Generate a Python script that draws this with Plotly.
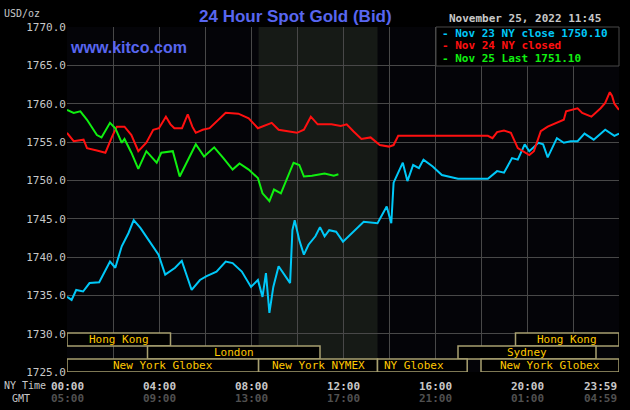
import plotly.graph_objects as go

# hours since 00:00 NY time, bid price
cyan_h = [0, 0.2, 0.4, 0.7, 0.98, 1.4, 1.87, 2.1, 2.38, 2.67, 2.9, 3.19, 3.55, 3.98, 4.27, 4.7, 4.99,
          5.42, 5.78, 6.07, 6.5, 6.9, 7.2, 7.6, 8.0, 8.3, 8.5, 8.65, 8.8, 8.97, 9.2, 9.7, 9.8, 9.9,
          10.1, 10.3, 10.5, 10.8, 11.0, 11.2, 11.4, 11.7, 12.0, 12.4, 12.9, 13.5, 13.9, 14.1, 14.2,
          14.6, 14.8, 15.05, 15.3, 15.5, 15.9, 16.3, 17.0, 18.3, 18.7, 19.0, 19.35, 19.6, 19.9, 20.1,
          20.5, 20.7, 20.9, 21.3, 21.6, 21.9, 22.2, 22.5, 22.9, 23.4, 23.8, 24.0]
cyan_v = [1734.8, 1734.4, 1735.7, 1735.5, 1736.6, 1736.7, 1739.4, 1738.6, 1741.4, 1743.1, 1744.8,
          1743.8, 1742.2, 1740.3, 1737.7, 1738.6, 1739.5, 1735.7, 1737.0, 1737.5, 1738.1, 1739.4,
          1739.2, 1738.1, 1736.1, 1737.0, 1734.8, 1737.9, 1732.7, 1736.1, 1738.8, 1736.6, 1743.5,
          1744.8, 1742.2, 1740.3, 1741.6, 1742.7, 1743.9, 1742.7, 1743.5, 1743.3, 1742.0, 1743.1,
          1744.6, 1744.4, 1746.6, 1744.4, 1749.7, 1752.3, 1749.9, 1752.0, 1751.6, 1752.7, 1751.8,
          1750.7, 1750.2, 1750.2, 1751.2, 1751.0, 1752.9, 1752.7, 1754.7, 1753.8, 1754.9, 1754.7,
          1753.0, 1755.5, 1754.9, 1755.1, 1755.1, 1756.1, 1755.3, 1756.6, 1755.8, 1756.1]

red_h = [0, 0.29, 0.72, 0.87, 1.3, 1.67, 1.96, 2.17, 2.5, 2.8, 3.1, 3.45, 3.75, 4.0, 4.3, 4.5, 4.67,
         5.0, 5.25, 5.45, 5.6, 5.9, 6.2, 6.45, 6.9, 7.45, 7.9, 8.3, 8.9, 9.2, 9.7, 10.0, 10.3, 10.6,
         10.9, 11.5, 11.9, 12.16, 12.45, 12.8, 13.2, 13.6, 14.0, 14.2, 14.4, 18.3, 18.5, 18.7, 19.0,
         19.3, 19.6, 19.9, 20.1, 20.3, 20.6, 20.9, 21.3, 21.6, 21.7, 22.2, 22.4, 22.8, 23.2, 23.4,
         23.6, 23.7, 23.8, 24.0]
red_v = [1756.2, 1755.1, 1755.3, 1754.2, 1753.9, 1753.6, 1755.7, 1757.0, 1757.0, 1755.9, 1753.8,
         1754.9, 1756.6, 1756.8, 1758.3, 1757.3, 1756.8, 1756.8, 1758.6, 1757.0, 1756.2, 1756.6,
         1756.8, 1757.5, 1758.8, 1758.7, 1758.1, 1756.8, 1757.5, 1756.6, 1756.3, 1756.2, 1756.6,
         1758.3, 1757.3, 1757.3, 1757.1, 1757.3, 1756.4, 1755.4, 1755.6, 1754.6, 1754.4, 1754.6,
         1755.8, 1755.8, 1755.5, 1756.3, 1756.5, 1756.2, 1754.2, 1753.6, 1753.3, 1753.8, 1756.4,
         1757.0, 1757.5, 1757.9, 1759.0, 1759.4, 1758.8, 1758.3, 1759.4, 1760.1, 1761.5, 1761.0,
         1760.0, 1759.2]

green_h = [0, 0.29, 0.58, 0.87, 1.3, 1.5, 1.87, 2.1, 2.38, 2.5, 2.8, 3.1, 3.45, 3.9, 4.1, 4.6, 4.9,
           5.3, 5.6, 5.96, 6.4, 6.8, 7.2, 7.5, 7.9, 8.3, 8.5, 8.8, 9.0, 9.3, 9.5, 9.85, 10.1, 10.3,
           10.65, 11.2, 11.6, 11.8]
green_v = [1759.2, 1758.8, 1759.0, 1757.9, 1755.9, 1755.6, 1757.5, 1756.8, 1754.9, 1755.4, 1753.6,
           1751.5, 1753.8, 1752.3, 1753.6, 1753.8, 1750.5, 1752.9, 1754.7, 1753.1, 1754.3, 1752.9,
           1751.4, 1752.2, 1751.4, 1750.3, 1748.3, 1747.3, 1748.8, 1748.3, 1749.7, 1752.3, 1752.0,
           1750.5, 1750.6, 1750.9, 1750.6, 1750.8]

# trading sessions: (name, start hour, end hour, row)
sessions = [("Hong Kong", 0, 4.5, 0), ("Hong Kong", 19.5, 24, 0),
            ("London", 3.5, 11, 1), ("Sydney", 17, 23, 1),
            ("New York Globex", 0, 8.33, 2), ("New York NYMEX", 8.33, 13.5, 2),
            ("NY Globex", 13.5, 17.4, 2), ("New York Globex", 18, 24, 2)]
row_y = [(1728.4, 1730.1), (1726.7, 1728.4), (1725.0, 1726.7)]

x_ticks = [0, 4, 8, 12, 16, 20, 24]
ny_labels = ["00:00", "04:00", "08:00", "12:00", "16:00", "20:00", "23:59"]
gmt_labels = ["05:00", "09:00", "13:00", "17:00", "21:00", "01:00", "04:59"]

mono = "DejaVu Sans Mono"
W, H = 630, 410
l, r, t, b = 67, 11, 27, 38

fig = go.Figure()
fig.add_vrect(x0=8.33, x1=13.5, fillcolor="#161a16", line_width=0, layer="below")

for h, v, c in [(cyan_h, cyan_v, "#00c8f8"), (red_h, red_v, "#ff1010"), (green_h, green_v, "#10f010")]:
    fig.add_trace(go.Scatter(x=h, y=v, mode="lines", line=dict(color=c, width=2), showlegend=False,
                             hoverinfo="skip"))

for name, a, bb, row in sessions:
    y0, y1 = row_y[row]
    fig.add_shape(type="rect", x0=a, x1=bb, y0=y0, y1=y1, line=dict(color="#a8a070", width=1.5),
                  fillcolor="#000000", layer="above")
    xc = (a + bb) / 2
    if name == "NY Globex":
        xc = a + 1.6
    fig.add_annotation(x=xc, y=(y0 + y1) / 2, text=name, showarrow=False,
                       font=dict(family=mono, size=11, color="#ffc800"))

for xv, ny, gmt in zip(x_ticks, ny_labels, gmt_labels):
    anc = "right" if xv == 24 else "center"
    fig.add_annotation(x=xv, y=1725, yshift=-14, text="<b>" + ny + "</b>", showarrow=False, xanchor=anc,
                       font=dict(family=mono, size=11, color="#c8c8c8"))
    fig.add_annotation(x=xv, y=1725, yshift=-26, text="<b>" + gmt + "</b>", showarrow=False, xanchor=anc,
                       font=dict(family=mono, size=11, color="#505050"))

# free texts placed by page pixel position, converted to plot-area paper coords
pw, ph = W - l - r, H - t - b
texts = [
    ("NY Time", 2, 386, "left", "#c8c8c8", 10, mono),
    ("GMT", 10, 398, "left", "#c8c8c8", 10, mono),
    ("USD/oz", 2, 14, "left", "#c8c8c8", 10, mono),
    ("<b>24 Hour Spot Gold (Bid)</b>", 295, 16, "center", "#5866f0", 17, "Liberation Sans"),
    ("<b>www.kitco.com</b>", 68, 48, "left", "#5866f0", 16, "Liberation Sans"),
    ("<b>November 25, 2022 11:45</b>", 447, 19, "left", "#c8c8c8", 11, mono),
    ("<b>- Nov 23 NY close 1750.10</b>", 440, 34, "left", "#00c8f8", 11, mono),
    ("<b>- Nov 24 NY closed</b>", 440, 46, "left", "#ff1010", 11, mono),
    ("<b>- Nov 25 Last 1751.10</b>", 440, 59, "left", "#10f010", 11, mono),
]

def px2paper(px, py):
    return (px - l) / pw, (H - b - py) / ph

x0p, y1p = px2paper(436, 27)
x1p, y0p = px2paper(619, 66)
fig.add_shape(type="rect", xref="paper", yref="paper", x0=x0p, x1=x1p, y0=y0p, y1=y1p,
              line=dict(color="#484848", width=1), fillcolor="#000000", layer="above")

for txt, px, py, anc, col, sz, fam in texts:
    xp, yp = px2paper(px, py)
    fig.add_annotation(x=xp, y=yp, xref="paper", yref="paper", text=txt, showarrow=False,
                       xanchor=anc, yanchor="middle", font=dict(family=fam, size=sz, color=col))

fig.update_layout(
    width=W, height=H, margin=dict(l=l, r=r, t=t, b=b, autoexpand=False),
    paper_bgcolor="#000000", plot_bgcolor="#040408",
    xaxis=dict(range=[0, 24], showticklabels=False, tickvals=list(range(0, 25, 2)),
               showgrid=True, gridcolor="#484848", gridwidth=1, zeroline=False, showline=False),
    yaxis=dict(range=[1725, 1770], tickvals=list(range(1725, 1771, 5)),
               tickformat=".1f", showgrid=True, gridcolor="#484848", zeroline=False,
               tickfont=dict(family=mono, size=11, color="#c8c8c8"), ticks=""),
)
fig.write_html("out.html", config={"displayModeBar": False},
               post_script="document.body.style.margin='0';document.body.style.background='#000';")
